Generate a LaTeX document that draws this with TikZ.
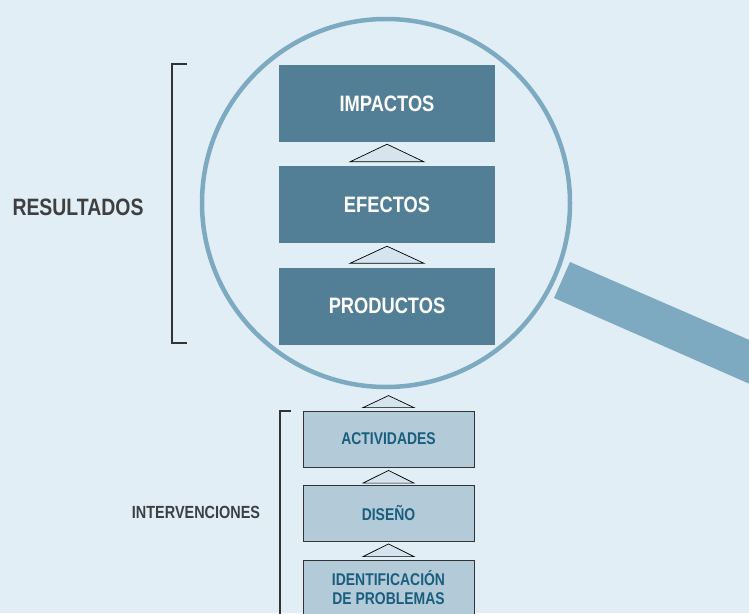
\documentclass[tikz,border=0pt]{standalone}
\usepackage{fontspec}
\setmainfont{Liberation Sans}
\newfontfamily\condfont[FakeStretch=0.82]{Liberation Sans}
\usetikzlibrary{calc}
\definecolor{bgblue}{HTML}{E1EEF6}
\definecolor{lensblue}{HTML}{7DAAC0}
\definecolor{darkbox}{HTML}{527F96}
\definecolor{lightbox}{HTML}{B3CAD9}
\definecolor{tealtext}{HTML}{1A5E7E}
\definecolor{greytext}{HTML}{3F3F3F}
\definecolor{trifill}{HTML}{D6E4EE}

\tikzset{
	result/.style={fill=darkbox, minimum width=216pt, minimum height=77pt, inner sep=0pt, text=white, font=\condfont\bfseries\fontsize{22.3}{24}\selectfont},
	interv/.style={draw=black!80, line width=0.8pt, fill=lightbox, minimum width=171pt, minimum height=56pt, inner sep=0pt, text=tealtext, align=center, font=\condfont\bfseries\fontsize{17}{19}\selectfont},
	uptri/.style={draw=black, line width=0.7pt, fill=trifill, line join=miter},
	bracket/.style={draw=black!80, line width=1.2pt},
	sidelabel/.style={text=greytext, inner sep=0pt}
}

\begin{document}
\begin{tikzpicture}[x=1pt,y=-1pt]
	\clip (0,0) rectangle (749,613);
	\fill[bgblue] (0,0) rectangle (749,613);
	% lens and handle
	\node[circle, draw=lensblue, line width=4.5pt, minimum size=368pt, inner sep=0pt] (lens) at (386,203) {};
	\fill[lensblue] (570,262) -- (554,298) -- (800,406) -- (800,362) -- cycle;
	% results
	\node[result] (impactos) at (387,103.5) {IMPACTOS};
	\node[result] (efectos) at (387,204.5) {EFECTOS};
	\node[result] (productos) at (387,306) {PRODUCTOS};
	\draw[uptri] ($(efectos.north)+(-37,-4)$) -- ($(impactos.south)+(0,2)$) -- ($(efectos.north)+(37,-4)$) -- cycle;
	\draw[uptri] ($(productos.north)+(-37,-4)$) -- ($(efectos.south)+(0,3)$) -- ($(productos.north)+(37,-4)$) -- cycle;
	% interventions
	\node[interv] (actividades) at (388.5,439) {ACTIVIDADES};
	\node[interv] (diseno) at (388.5,513.5) {DISEÑO};
	\node[interv] (identificacion) at (388.5,588) {IDENTIFICACIÓN\\DE PROBLEMAS};
	\draw[uptri] ($(actividades.north)+(-25.5,-3)$) -- ($(actividades.north)+(0,-15)$) -- ($(actividades.north)+(25.5,-3)$) -- cycle;
	\draw[uptri] ($(diseno.north)+(-25.5,-2)$) -- ($(actividades.south)+(0,3)$) -- ($(diseno.north)+(25.5,-2)$) -- cycle;
	\draw[uptri] ($(identificacion.north)+(-25.5,-3)$) -- ($(diseno.south)+(0,2)$) -- ($(identificacion.north)+(25.5,-3)$) -- cycle;
	% brackets
	\draw[bracket] (187,64) -- (172,64) -- (172,343) -- (187,343);
	\draw[bracket] (291,411) -- (280,411) -- (280,620);
	\node[sidelabel, font=\condfont\bfseries\fontsize{23.7}{26}\selectfont] (resultados) at (78,207) {RESULTADOS};
	\node[sidelabel, font=\condfont\bfseries\fontsize{17.6}{19}\selectfont] (intervenciones) at (196,512) {INTERVENCIONES};
\end{tikzpicture}
\end{document}
